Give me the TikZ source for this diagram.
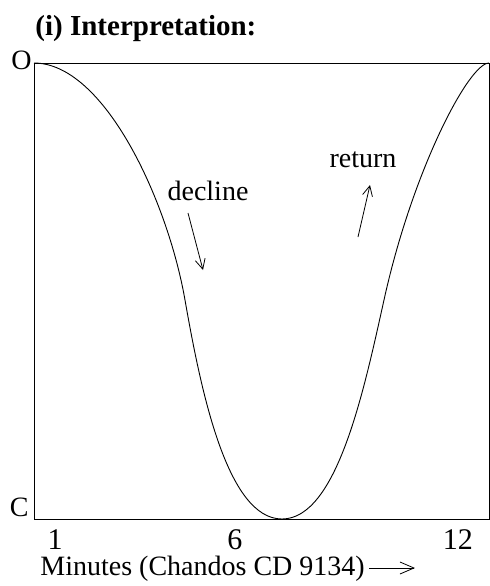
\documentclass[tikz,border=0pt]{standalone}
\usepackage{fontspec}
\setmainfont{Liberation Serif}
\usetikzlibrary{positioning,arrows.meta}

\tikzset{
  lbl/.style={font=\fontsize{14}{16}\selectfont, inner sep=0pt},
  tick/.style={lbl, font=\fontsize{15}{16}\selectfont, anchor=base},
  hint/.style={draw, thin, -{Straight Barb[length=5pt,width=5pt]}},
}

\begin{document}
\begin{tikzpicture}[x=0.5pt, y=-0.5pt, line width=0.45pt]
  \useasboundingbox (0,0) rectangle (490,586);
  % frame
  \coordinate (tl) at (34,63);
  \coordinate (br) at (489,519);
  \draw (tl) rectangle (br);
  \node[lbl, font=\fontsize{14.5}{16}\selectfont\bfseries, anchor=base west] (title) at (35,35) {(i) Interpretation:};
  \node[lbl, anchor=east] (open) at (32,60) {O};
  \node[lbl, anchor=east] (closed) at (29,507) {C};
  % minutes
  \node[tick] (t1) at (55,549) {1};
  \node[tick] (t6) at (235,549) {6};
  \node[tick] (t12) at (458,549) {12};
  \node[lbl, anchor=base west] (xlab) at (40,575) {Minutes (Chandos CD 9134)};
  \coordinate (xa) at (415,568);
  \draw[thin, -{Straight Barb[length=7pt,width=6pt]}] ([xshift=2pt]xlab.east |- xa) -- (xa);
  % curve
  \coordinate (low) at (282,519);
  \coordinate (fall) at (185,300);
  \coordinate (rise) at (384,300);
  \draw (tl) .. controls (104,63) and (167.5,200) .. (fall)
        .. controls (200.8,390) and (227,519) .. (low)
        .. controls (337,519) and (364,390) .. (rise)
        .. controls (412.6,170) and (469,63) .. (489,63);
  % labels
  \node[lbl, anchor=base] (dec) at (208,200) {decline};
  \node[lbl, anchor=base] (ret) at (363,167) {return};
  \coordinate (d1) at (188,213);
  \coordinate (d2) at (203,270);
  \coordinate (r1) at (358,237);
  \coordinate (r2) at (370,185);
  \draw[hint] (d1) -- (d2);
  \draw[hint] (r1) -- (r2);
\end{tikzpicture}
\end{document}
